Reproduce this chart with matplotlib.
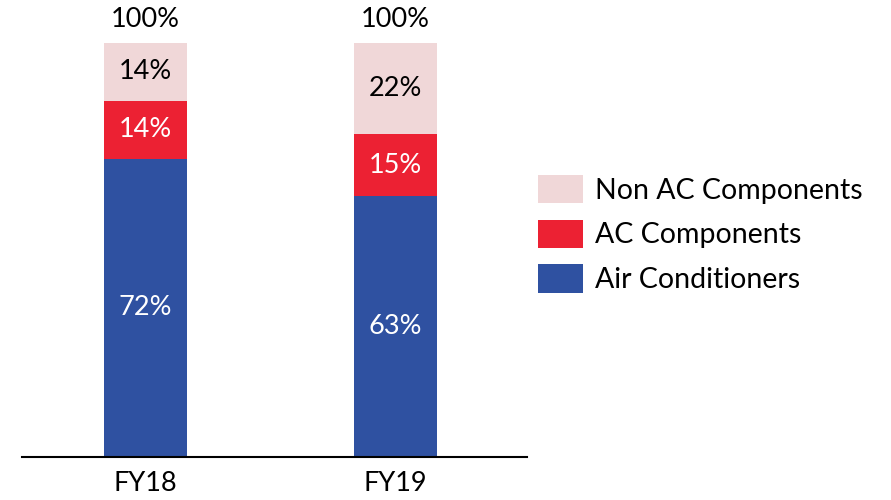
import matplotlib.pyplot as plt
import numpy as np

# share of revenue by segment
years = ['FY18', 'FY19']
air_conditioners = [72, 63]
ac_components = [14, 15]
non_ac_components = [14, 22]
totals = [100, 100]

plt.rcParams['font.family'] = ['Lato', 'DejaVu Sans']

fig = plt.figure(figsize=(8.91, 5), dpi=100)
ax = fig.add_axes([22 / 891, 43 / 500, 505 / 891, 414 / 500])

x = np.arange(len(years))
w = 0.332
b1 = ax.bar(x, air_conditioners, w, color='#2F51A1', label='Air Conditioners')
b2 = ax.bar(x, ac_components, w, bottom=air_conditioners, color='#EC2133', label='AC Components')
bottom3 = np.add(air_conditioners, ac_components)
b3 = ax.bar(x, non_ac_components, w, bottom=bottom3, color='#F0D7D8', label='Non AC Components')

fs = 19.5
# value labels inside the segments
ax.bar_label(b1, labels=[f'{v}%' for v in air_conditioners], label_type='center', color='white', fontsize=fs)
ax.bar_label(b2, labels=[f'{v}%' for v in ac_components], label_type='center', color='white', fontsize=fs)
ax.bar_label(b3, labels=[f'{v}%' for v in non_ac_components], label_type='center', color='black', fontsize=fs)
for xi, t in zip(x, totals):
    ax.annotate(f'{t}%', (xi, t), xytext=(0, 17), textcoords='offset points',
                ha='center', va='center', fontsize=fs, annotation_clip=False)

ax.set_xlim(-0.494, 1.526)
ax.set_ylim(0, 100)
ax.set_xticks(x)
ax.set_xticklabels(years, fontsize=fs)
ax.tick_params(axis='x', length=0, pad=10)
ax.set_yticks([])
for s in ['top', 'right', 'left']:
    ax.spines[s].set_visible(False)
ax.spines['bottom'].set_linewidth(1.5)

handles = [b3, b2, b1]
fig.legend(handles, [h.get_label() for h in handles], loc='center left',
           bbox_to_anchor=(538 / 891, 1 - 234 / 500), frameon=False, fontsize=20.5,
           borderpad=0, borderaxespad=0,
           handlelength=1.58, handleheight=1.16, labelspacing=0.56, handletextpad=0.42)

plt.savefig('out.png', dpi=100)
